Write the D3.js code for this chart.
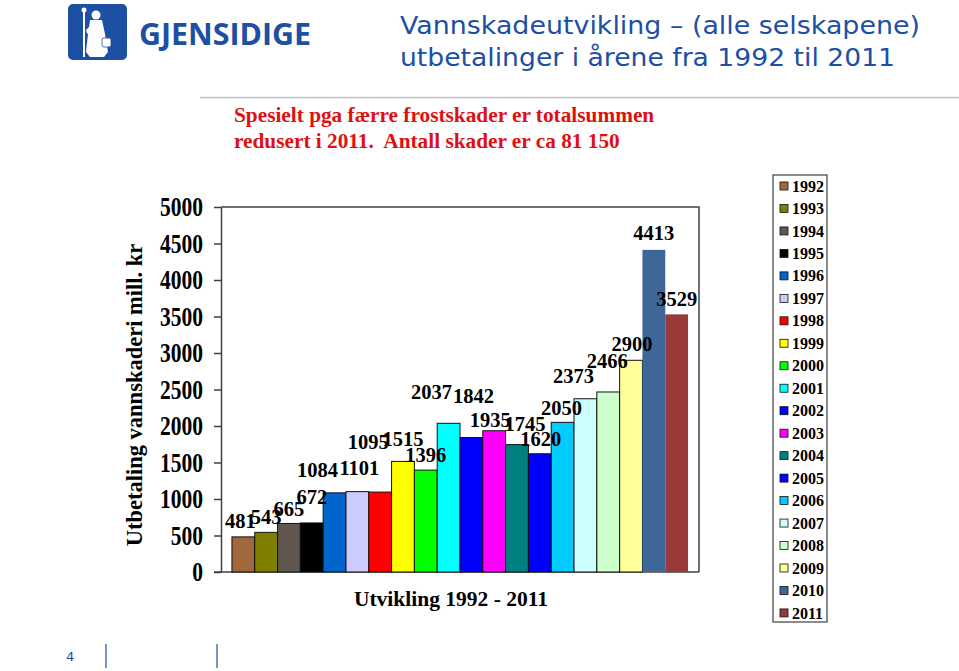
<!DOCTYPE html>
<html><head><meta charset="utf-8">
<script src="https://cdn.jsdelivr.net/npm/d3@7"></script>
<style>body{margin:0;background:#fff}svg{display:block}</style>
</head><body><svg id="c" width="959" height="671"></svg>
<script>
const years = ["1992","1993","1994","1995","1996","1997","1998","1999","2000","2001","2002","2003","2004","2005","2006","2007","2008","2009","2010","2011"];
const values = [481,543,665,672,1084,1101,1095,1515,1396,2037,1842,1935,1745,1620,2050,2373,2466,2900,4413,3529];
const colors = ["#A0683C","#808000","#605850","#000000","#0066CC","#CCCCFF","#FF0000","#FFFF00","#00FF00","#00FFFF","#0000FF","#FF00FF","#008080","#0000FF","#00CCFF","#CCFFFF","#CCFFCC","#FFFF99","#3F6699","#993939"];
const yTicks = [0,500,1000,1500,2000,2500,3000,3500,4000,4500,5000];
// label layout offsets (px) relative to bar centre / bar top
const labelDx = [-3,0,0,0,-17,2,-12,0,0,-17,2,-4,8,1,-1,-12,-1,1,0,0];
const labelDy = [-16,-16,-15,-26,-23,-24,-50,-23,-15,-31,-42,-11,-21,-15,-15,-23,-31,-16,-17,-16];

const svg = d3.select("#c");
const blue = "#1D4FA3";

// logo
const logo = svg.append("g");
logo.append("rect").attr("x",68).attr("y",4).attr("width",59).attr("height",56).attr("rx",5).attr("fill",blue);
logo.append("line").attr("x1",84).attr("y1",9).attr("x2",84).attr("y2",57).attr("stroke","#fff").attr("stroke-width",2);
logo.append("circle").attr("cx",84).attr("cy",10).attr("r",2.5).attr("fill","#fff");
logo.append("circle").attr("cx",96).attr("cy",15).attr("r",4.5).attr("fill","#fff");
logo.append("path").attr("d","M90,20 L102,20 L105,34 L108,52 L104,57 L90,57 L86,52 L88,34 Z").attr("fill","#fff");
logo.append("path").attr("d","M86,30 L92,24 L93,28 L87,34 Z").attr("fill","#fff");
logo.append("rect").attr("x",102).attr("y",38).attr("width",9).attr("height",9).attr("rx",2).attr("fill","#fff").attr("stroke",blue).attr("stroke-width",0.8);
svg.append("text").attr("x",139).attr("y",45).attr("font-family","'Open Sans', 'DejaVu Sans', sans-serif").attr("font-weight","bold").attr("font-size",31).attr("fill",blue).attr("textLength",172).attr("lengthAdjust","spacingAndGlyphs").text("GJENSIDIGE");

// title
const title = svg.append("text").attr("font-family","'DejaVu Sans', Verdana, sans-serif").attr("font-size",25).attr("fill",blue);
title.append("tspan").attr("x",400).attr("y",34).attr("textLength",520).attr("lengthAdjust","spacingAndGlyphs").text("Vannskadeutvikling \u2013 (alle selskapene)");
title.append("tspan").attr("x",400).attr("y",66).attr("textLength",495).attr("lengthAdjust","spacingAndGlyphs").text("utbetalinger i årene fra 1992 til 2011");

// separator
svg.append("line").attr("x1",200).attr("x2",959).attr("y1",97.5).attr("y2",97.5).attr("stroke","#B8C0C8").attr("stroke-width",1.5);

// subtitle
const sub = svg.append("text").attr("font-family","'Liberation Serif','Times New Roman',serif").attr("font-weight","bold").attr("font-size",21.3).attr("fill","#E01010").style("white-space","pre");
sub.append("tspan").attr("x",234).attr("y",122).text("Spesielt pga færre frostskader er totalsummen");
sub.append("tspan").attr("x",234).attr("y",148).text("redusert i 2011.  Antall skader er ca 81 150");

// plot
const x0 = 221, x1 = 699, yTop = 207, yBot = 572;
const x = d3.scaleBand().domain(years).range([x0, x1]).paddingInner(0).paddingOuter(0.48);
const y = d3.scaleLinear().domain([0,5000]).range([yBot, yTop]);

// frame top & right
svg.append("path").attr("d",`M${x0},${yTop}H${x1}V${yBot}`).attr("fill","none").attr("stroke","#404040").attr("stroke-width",1.5);

const serif = "'Liberation Serif','Times New Roman',serif";
const ya = svg.append("g").attr("transform",`translate(${x0},0)`).call(d3.axisLeft(y).tickValues(yTicks).tickSize(7).tickPadding(11).tickSizeOuter(0).tickFormat(d3.format("d")));
ya.select(".domain").attr("stroke","#404040").attr("stroke-width",1.5);
ya.selectAll(".tick line").attr("stroke","#404040").attr("stroke-width",1.5);
ya.selectAll(".tick text").attr("font-family",serif).attr("font-weight","bold").attr("font-size",21.5).attr("fill","#000").attr("transform","scale(1,1.3)");

const xa = svg.append("g").attr("transform",`translate(0,${yBot})`).call(d3.axisBottom(x).tickSize(0).tickFormat(""));
xa.select(".domain").attr("d",`M${x0-7},0H${x1}`).attr("stroke","#404040").attr("stroke-width",1.5);

svg.append("g").selectAll("rect").data(values).join("rect")
  .attr("x",(d,i)=>x(years[i])).attr("width",x.bandwidth())
  .attr("y",d=>y(d)).attr("height",d=>yBot-y(d))
  .attr("fill",(d,i)=>colors[i])
  .attr("stroke",(d,i)=> i>=18 ? "none" : "#111").attr("stroke-width",1);

svg.append("g").selectAll("text").data(values).join("text")
  .attr("x",(d,i)=>x(years[i])+x.bandwidth()/2+labelDx[i])
  .attr("y",(d,i)=>y(d)+labelDy[i]).attr("dy","0.35em")
  .attr("text-anchor","middle").attr("font-family",serif).attr("font-weight","bold").attr("font-size",20.5).attr("fill","#000")
  .text(d=>d);

svg.append("text").attr("transform","translate(142,395) rotate(-90)").attr("text-anchor","middle")
  .attr("font-family",serif).attr("font-weight","bold").attr("font-size",22.5).text("Utbetaling vannskaderi mill. kr");
svg.append("text").attr("x",451).attr("y",606).attr("text-anchor","middle")
  .attr("font-family",serif).attr("font-weight","bold").attr("font-size",21.5).text("Utvikling 1992 - 2011");

// legend
svg.append("rect").attr("x",773).attr("y",175).attr("width",54).attr("height",447).attr("fill","none").attr("stroke","#404040").attr("stroke-width",1.2);
const lg = svg.append("g").selectAll("g").data(years).join("g").attr("transform",(d,i)=>`translate(0,${186+i*22.47})`);
lg.append("rect").attr("x",780).attr("y",-4).attr("width",8).attr("height",8).attr("fill",(d,i)=>colors[i]).attr("stroke","#111").attr("stroke-width",0.8);
lg.append("text").attr("x",792).attr("y",0).attr("dy","0.35em").attr("font-family",serif).attr("font-weight","bold").attr("font-size",16).text(d=>d);

// footer
svg.append("text").attr("x",66).attr("y",661).attr("font-family","'DejaVu Sans', Verdana, sans-serif").attr("font-size",13).attr("fill",blue).text("4");
svg.append("line").attr("x1",106).attr("x2",106).attr("y1",644).attr("y2",668).attr("stroke",blue).attr("stroke-width",1.2);
svg.append("line").attr("x1",217).attr("x2",217).attr("y1",644).attr("y2",668).attr("stroke",blue).attr("stroke-width",1.2);
</script></body></html>
